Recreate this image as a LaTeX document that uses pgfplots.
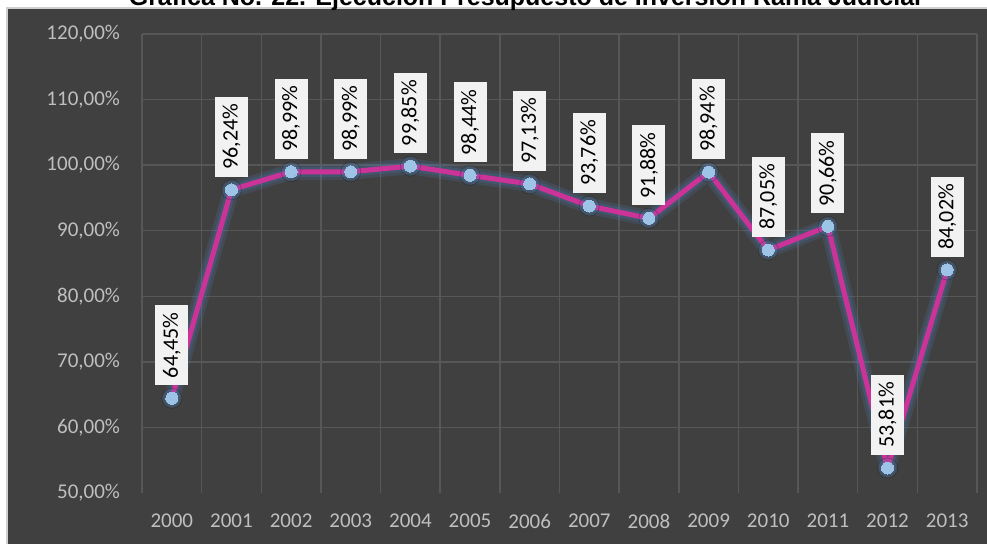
\documentclass[border=0pt]{standalone}
\usepackage{fontspec}
\setmainfont{Carlito}
\newfontfamily\titlefont{Liberation Sans}
\usepackage{pgfplots}
\pgfplotsset{compat=1.18}
\usepackage{pgfplotstable}
\definecolor{panel}{HTML}{404040}
\definecolor{gridc}{HTML}{575757}
\definecolor{tickc}{HTML}{BFBFBF}
\definecolor{linec}{HTML}{CC3399}
\definecolor{markc}{HTML}{9DC3E6}
\definecolor{glowc}{HTML}{4F81BD}
\definecolor{boxc}{HTML}{F2F2F2}
\definecolor{borderc}{HTML}{D0D0D0}

\pgfplotstableread{
x y
0 64.45
1 96.24
2 98.99
3 98.99
4 99.85
5 98.44
6 97.13
7 93.76
8 91.88
9 98.94
10 87.05
11 90.66
12 53.81
13 84.02
}\data

\begin{document}
\begin{tikzpicture}
\fill[panel, draw=borderc, line width=0.6pt] (3.5pt,-2pt) rectangle (496pt,268pt);
\node[anchor=base, font=\titlefont\bfseries\fontsize{12.5}{15}\selectfont] at (262.5pt,269pt) {Gráfica No. 22. Ejecución Presupuesto de Inversión Rama Judicial};
\begin{axis}[
  at={(71pt,25.5pt)}, anchor=south west,
  scale only axis, width=417.5pt, height=229.5pt,
  xmin=-0.5, xmax=13.5, ymin=50, ymax=120,
  axis line style={draw=none},
  major tick length=0pt, minor tick length=0pt,
  xtick={0,...,13},
  xticklabels={2000,2001,2002,2003,2004,2005,2006,2007,2008,2009,2010,2011,2012,2013},
  minor xtick={-0.5,0.5,...,13.5},
  ytick={60,70,...,120},
  extra y ticks={50},
  extra y tick style={grid=none},
  xmajorgrids=false, xminorgrids=true, ymajorgrids=true,
  major grid style={gridc, line width=0.75pt},
  minor grid style={gridc, line width=0.75pt},
  tick label style={font=\fontsize{10.5}{12}\selectfont, text=tickc},
  /pgf/number format/assume math mode=true,
  yticklabel={\pgfmathprintnumber[fixed,fixed zerofill,precision=2,use comma]{\tick}\%},
  yticklabel style={xshift=-7.5pt},
  xticklabel style={yshift=-7pt},
  clip=false,
]
\addplot[glowc, opacity=0.18, line width=8pt, line join=round, line cap=round, mark=none] table {\data};
\addplot[glowc, opacity=0.22, line width=5pt, line join=round, line cap=round, mark=none] table {\data};
\addplot[only marks, mark=*, mark size=5pt, mark options={draw=none, fill=glowc, opacity=0.22}] table {\data};
\addplot[linec, line width=2.5pt, line join=round, mark=none] table {\data};
\addplot[only marks, mark=*, mark size=3pt, color=markc, mark options={fill=markc, draw=markc, line width=0pt},
  point meta=y,
  nodes near coords={\pgfmathprintnumber[fixed,fixed zerofill,precision=2,use comma]{\pgfplotspointmeta}\%},
  nodes near coords style={rotate=90, anchor=west, xshift=6.5pt, fill=boxc, text=black, font=\fontsize{11}{13}\selectfont, inner sep=0pt, minimum width=40pt, minimum height=16.5pt},
] table {\data};
\end{axis}
\pgfresetboundingbox
\useasboundingbox (0,0) rectangle (493.5pt,272pt);
\end{tikzpicture}
\end{document}
